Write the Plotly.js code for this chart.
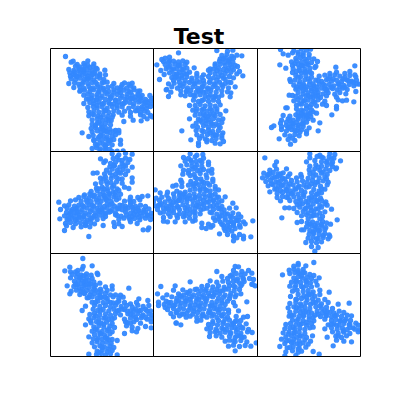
<!DOCTYPE html>
<html><head><meta charset="utf-8"><script src="https://cdn.plot.ly/plotly-3.0.1.min.js"></script>
<style>html,body{margin:0;padding:0;background:#fff}</style></head><body><div id="c" style="width:400px;height:400px"></div>
<script>
const titleText = "Test";
const panel1 = [45,33,62,50,68,47,112,46,80,57,100,54,112,59,130,55,75,62,88,64,103,60,118,66,128,63,137,68,55,72,70,75,85,70,98,74,110,72,125,76,140,71,163,74,58,82,72,80,88,84,100,79,118,82,132,81,148,85,60,92,68,88,80,93,95,89,110,92,125,88,140,93,148,90,165,88,62,100,75,103,88,98,102,102,115,100,130,103,148,98,160,102,55,114,72,112,85,116,98,110,112,114,125,111,140,116,155,112,170,110,190,114,215,117,222,112,235,116,245,113,70,126,88,124,100,128,115,123,128,127,142,124,158,128,172,125,185,122,200,127,212,124,228,128,240,122,250,127,268,136,88,137,102,134,118,138,130,133,145,137,160,134,175,138,190,133,205,137,220,134,235,138,250,133,262,137,100,149,112,146,125,150,140,147,155,151,170,146,185,150,200,147,215,151,230,146,245,150,262,147,275,150,108,161,122,158,138,163,150,158,165,162,180,159,195,163,210,158,225,162,240,159,255,163,270,158,285,162,298,150,305,159,100,174,118,171,130,175,145,170,160,174,175,171,190,175,205,170,220,174,238,171,250,175,265,170,280,174,292,171,305,175,112,186,128,183,140,187,155,184,170,188,185,183,200,187,215,184,235,188,248,183,262,187,275,184,288,188,300,183,115,199,130,196,145,200,160,197,175,201,190,196,205,200,222,197,240,201,255,196,270,200,283,197,292,201,115,211,130,208,143,212,158,209,172,213,188,208,215,209,240,212,270,208,280,213,300,210,305,214,125,223,140,220,155,224,168,221,182,225,220,228,248,224,272,226,290,220,125,236,140,233,152,237,165,234,180,238,122,249,135,246,150,250,165,247,178,251,195,255,205,255,95,262,125,259,140,256,152,260,165,257,178,261,190,258,205,262,115,273,128,270,145,274,158,271,170,275,185,272,195,268,210,284,130,283,142,280,155,284,168,281,180,285,190,282,135,296,148,293,160,297,172,294,185,298,210,296,125,309,138,306,150,310,165,307,178,311,148,316,165,315,185,318,200,317,218,316];
const panel2 = [75,22,190,15,222,17,238,14,205,30,220,27,235,32,250,29,265,31,25,42,35,38,48,35,200,40,215,37,228,41,240,38,48,46,30,48,45,50,60,47,75,49,88,46,100,50,185,55,198,47,212,51,225,46,238,50,10,58,35,57,50,60,65,56,80,59,95,57,170,70,185,60,200,56,215,60,230,57,252,63,22,75,38,70,55,73,70,69,85,72,100,68,122,67,165,74,180,71,195,68,210,72,225,69,240,73,258,78,32,87,48,82,62,85,78,81,92,84,108,80,130,84,150,88,170,82,185,85,200,81,215,84,232,80,250,85,268,91,55,96,70,93,85,97,100,94,115,98,130,92,145,96,165,93,180,97,195,94,210,98,228,93,240,97,18,102,60,105,62,113,78,110,92,114,108,111,122,115,138,110,152,114,168,111,182,115,198,110,215,114,232,111,45,115,40,132,55,124,72,128,88,123,102,127,118,124,132,128,148,123,162,127,178,124,192,128,208,123,225,127,245,124,38,133,52,140,82,136,98,139,112,135,128,140,142,136,158,139,172,135,188,140,205,136,222,139,232,142,45,153,82,148,95,151,110,147,125,152,140,148,155,152,170,147,185,152,205,149,230,154,108,180,120,164,135,168,150,163,165,167,180,164,195,168,125,180,140,177,155,181,170,178,185,182,200,178,118,194,128,197,145,193,160,197,175,194,190,198,217,196,125,209,140,206,155,210,170,207,185,211,200,207,108,220,135,221,150,218,165,222,180,219,195,223,208,220,128,233,145,230,158,234,172,231,188,235,205,231,118,242,132,245,150,241,165,245,180,242,200,246,85,256,128,255,150,258,165,254,178,258,195,255,208,262,130,268,145,271,162,267,178,271,190,268,205,270,112,283,138,279,160,283,188,279,205,278,135,292,160,289,185,293,200,295,210,288,135,300];
const panel3 = [72,12,112,15,135,10,150,14,162,11,80,25,95,29,108,22,125,26,140,23,158,27,118,39,132,36,145,40,158,37,172,40,105,49,120,46,135,50,150,47,165,51,183,48,70,58,108,60,125,57,140,61,155,58,178,62,88,68,110,70,128,67,145,71,160,68,175,66,238,65,295,61,108,81,120,78,135,82,150,79,165,83,280,78,295,88,265,84,240,80,220,84,100,102,118,90,132,94,148,91,165,95,188,92,205,89,220,93,235,88,250,92,265,96,280,90,298,94,102,108,115,104,130,108,145,103,160,107,178,104,195,108,210,103,225,107,240,104,255,108,270,103,285,107,300,104,112,119,128,116,142,120,158,117,172,121,188,116,205,120,218,117,232,121,248,116,262,120,278,117,292,121,308,116,118,131,132,128,148,132,165,129,180,133,195,128,212,132,228,129,242,133,258,128,272,132,298,138,98,149,125,141,140,145,155,142,170,146,185,141,200,145,215,142,235,146,250,141,268,145,108,150,118,153,132,155,148,151,162,155,178,152,192,156,210,151,240,155,112,166,125,163,140,167,155,164,170,168,185,163,205,167,245,163,258,166,270,164,292,169,120,179,135,176,150,180,165,177,180,181,198,176,210,180,88,187,92,187,120,190,135,193,150,189,165,193,240,183,125,201,140,198,155,202,170,199,180,203,240,190,80,210,100,212,118,208,132,212,148,209,163,213,226,208,75,224,95,220,110,224,125,221,140,225,155,220,170,224,72,233,90,230,105,234,120,231,135,235,150,230,190,232,45,246,52,241,75,243,95,246,110,242,125,246,140,243,158,247,75,252,90,256,105,252,120,256,135,253,150,257,185,256,85,268,100,271,115,267,128,271,150,265,68,280,95,282,108,278,115,285,102,296];
const panel4 = [185,10,205,13,225,8,245,11,150,25,165,31,188,24,205,28,225,23,238,27,160,36,180,39,195,35,215,39,232,36,178,49,192,46,208,50,225,47,245,50,168,59,185,56,200,60,218,57,232,61,128,68,140,67,162,70,178,67,195,71,210,68,225,72,150,83,165,80,182,84,198,81,215,85,245,82,152,96,168,93,182,97,198,94,215,98,245,95,135,100,138,113,155,110,170,114,185,111,200,115,222,110,235,114,122,123,140,120,158,124,172,121,188,125,205,120,102,133,118,130,132,134,148,131,162,135,178,130,195,134,210,131,85,141,100,138,115,142,130,139,145,143,160,138,175,142,190,139,205,143,240,140,262,141,275,138,292,136,25,155,60,151,75,148,92,152,108,149,122,153,138,148,152,152,168,149,182,153,198,148,222,152,238,149,250,153,268,148,42,166,55,163,72,167,85,164,100,168,115,163,130,167,148,164,162,168,178,163,192,167,208,164,225,168,240,163,255,167,270,164,285,168,30,177,50,173,65,177,80,174,95,178,110,173,125,177,140,174,155,178,170,173,185,177,200,174,215,178,232,173,248,177,262,174,280,178,295,175,48,186,62,183,75,187,90,184,105,188,120,183,135,187,150,184,165,188,180,183,195,187,225,184,240,188,255,183,270,187,285,184,302,188,42,196,55,193,70,197,85,194,100,198,115,193,130,197,148,194,165,198,195,193,212,197,228,194,245,198,260,193,275,197,292,194,305,198,28,205,50,207,65,203,80,207,95,204,110,208,125,203,140,207,158,204,205,207,220,203,238,207,252,204,268,208,285,203,300,207,45,219,60,216,75,220,90,217,105,221,120,216,132,220,190,216,205,220,240,214,260,219,48,226,68,231,92,229,105,225,118,229,158,225,192,228,215,228,42,240,278,238,292,238,295,232,115,258];
const panel5 = [110,10,130,14,148,12,90,21,105,24,125,19,150,23,95,32,112,29,128,33,140,30,165,35,82,46,100,43,115,47,130,44,145,48,165,43,90,59,118,56,132,60,150,57,165,61,175,57,88,71,105,68,122,72,140,69,158,73,175,68,82,89,125,81,142,85,160,82,178,86,85,96,112,93,128,97,145,94,162,98,178,93,58,107,68,104,85,108,105,104,120,107,135,103,150,107,168,104,185,108,110,119,125,116,140,120,155,117,170,121,185,116,195,118,5,118,42,125,70,122,80,127,95,125,20,127,40,134,60,130,78,134,92,131,108,135,122,130,138,134,152,131,168,135,185,130,8,143,25,140,45,144,62,141,78,145,95,140,110,144,125,141,140,145,155,140,170,144,190,141,215,139,0,153,18,150,35,154,50,151,68,155,85,150,100,154,118,151,132,155,150,150,165,154,180,151,195,155,205,151,5,166,20,163,38,167,55,164,72,168,88,163,102,167,118,164,135,168,150,163,170,167,190,164,205,168,238,158,12,177,30,173,45,177,62,174,78,178,95,173,110,177,125,174,142,178,160,173,180,177,195,174,212,178,228,173,248,172,20,187,45,190,60,186,78,190,92,187,108,191,125,186,140,190,175,187,190,191,205,186,222,190,238,187,255,191,30,201,50,198,72,202,90,199,108,203,125,198,180,202,198,199,215,203,230,198,248,202,262,199,30,212,42,214,65,214,95,214,118,212,125,209,185,210,200,214,215,209,232,213,250,210,270,214,298,211,145,218,165,221,178,225,205,221,222,225,240,220,258,224,275,220,145,231,158,234,172,230,212,233,228,230,245,234,260,230,215,240,225,238,235,242,198,250,222,252,240,256,258,252,270,257,240,258,250,262,270,265,292,259,240,271];
const panel6 = [160,10,190,14,220,9,235,12,25,22,160,22,182,18,200,22,218,19,232,23,60,34,150,34,175,30,195,34,212,31,228,35,252,31,55,45,160,47,178,43,195,47,212,44,228,48,240,52,40,59,60,56,90,55,72,70,158,58,175,55,190,59,208,56,238,55,22,68,35,72,50,66,65,70,80,67,100,70,133,72,160,69,178,73,195,68,212,72,18,82,32,78,48,82,62,79,78,83,95,78,120,82,135,79,155,83,170,78,188,82,205,79,28,93,42,90,58,94,72,91,88,95,105,90,122,94,138,91,152,95,168,90,185,94,200,91,215,95,35,106,50,103,65,107,80,104,95,108,110,103,128,107,142,104,158,108,175,103,192,107,212,103,40,124,55,116,72,120,88,117,102,121,118,116,135,120,172,117,188,121,205,116,62,129,78,126,95,130,110,127,125,131,140,133,165,127,180,131,195,127,62,141,78,138,95,142,112,139,128,143,142,138,158,142,175,139,192,143,72,151,100,150,118,153,132,149,148,153,165,149,182,153,195,150,208,154,122,163,138,160,155,164,170,161,190,165,205,160,212,164,85,172,98,172,112,174,130,170,148,174,162,171,178,175,195,170,225,176,122,186,140,183,155,187,172,184,190,188,205,184,135,196,150,193,165,197,180,194,198,198,76,202,242,208,122,216,135,213,152,217,168,214,182,218,198,213,210,217,222,221,150,229,165,226,180,230,195,227,208,231,135,238,142,238,160,240,175,236,190,240,205,237,158,251,172,248,188,252,205,249,218,253,155,263,170,260,185,264,200,261,215,265,220,258,148,276,165,273,180,277,195,274,165,288,185,291,175,302];
const panel7 = [97,18,58,44,98,42,125,40,43,55,60,58,82,54,95,50,140,62,65,66,80,63,92,67,108,64,122,68,142,66,60,76,78,73,92,77,108,74,125,78,72,86,85,83,100,87,115,84,130,88,80,96,92,93,105,97,120,94,135,98,148,92,50,100,70,102,85,105,100,101,115,105,130,102,165,103,185,100,235,107,62,116,78,113,92,117,108,114,122,118,135,113,152,117,170,114,185,110,58,124,88,126,102,123,118,127,132,124,148,128,165,123,180,127,195,127,210,128,110,136,125,133,140,137,155,134,170,138,188,133,205,137,218,134,265,139,125,149,142,146,158,150,172,147,188,151,205,146,222,150,240,154,258,150,292,144,105,161,132,158,148,162,165,159,180,163,195,158,212,162,228,159,245,163,262,158,278,162,295,159,95,174,128,170,142,174,158,171,175,175,190,170,205,174,222,171,240,175,255,170,270,174,285,171,300,175,118,186,132,183,148,187,165,184,180,188,195,183,210,187,232,184,248,188,262,183,278,187,295,184,305,188,115,199,130,196,145,200,160,197,175,201,192,196,222,200,240,197,258,201,272,196,290,200,302,197,122,211,138,208,152,212,168,209,185,213,225,208,240,212,250,208,270,212,302,208,105,217,130,223,145,220,160,224,178,221,192,225,228,220,245,224,262,228,285,222,302,226,125,236,140,233,155,237,170,234,185,238,245,235,258,238,115,253,132,246,148,243,162,247,178,244,222,243,128,259,142,256,155,260,170,257,185,261,200,264,125,271,140,268,155,272,168,269,182,273,132,283,148,280,162,284,178,281,190,285,140,296,155,293,170,297,185,294,115,305,138,306,152,303,165,307,180,304,200,307];
const panel8 = [245,42,255,43,190,57,240,54,265,57,285,54,235,67,248,63,262,67,275,64,295,62,205,72,170,85,222,78,238,75,252,79,268,76,288,78,300,81,110,88,190,89,208,86,225,90,240,87,258,91,272,87,295,95,305,100,22,102,65,100,130,110,145,102,162,99,178,103,195,100,212,104,228,99,245,103,262,100,298,96,60,113,88,112,110,115,125,111,142,115,158,110,175,114,190,111,208,115,225,110,242,114,258,111,12,124,40,127,75,124,90,128,105,123,120,127,135,124,150,128,165,123,182,127,198,124,215,128,232,123,248,127,262,124,28,136,55,133,70,137,85,134,100,138,115,133,130,137,145,134,160,138,178,133,195,137,210,134,228,138,245,133,15,149,38,146,52,150,68,147,82,151,98,146,112,150,128,147,142,151,158,146,175,150,190,147,205,151,222,146,240,150,280,148,15,159,32,156,48,160,65,157,80,161,95,156,110,160,125,157,140,161,155,156,170,160,185,157,200,161,215,156,245,160,42,171,60,168,75,172,90,169,105,173,122,168,138,172,152,169,168,173,182,168,198,172,212,169,225,173,255,175,52,183,68,180,85,184,100,181,118,185,132,180,148,184,165,181,180,185,195,180,210,184,225,181,60,193,78,190,98,194,110,191,130,195,145,190,160,194,175,191,190,195,205,190,222,194,248,192,270,194,282,192,68,211,130,206,142,203,178,207,195,204,210,208,228,203,245,207,262,204,68,212,82,217,165,216,178,213,192,217,208,214,222,218,240,213,258,217,278,214,160,229,172,226,188,230,205,227,220,231,235,226,252,230,268,227,285,231,170,240,185,238,200,242,215,239,232,243,248,238,262,242,282,238,296,240,168,252,188,250,205,254,228,251,245,255,258,250,272,254,215,266,228,263,245,267,262,264,280,268,308,271,225,281,240,278,258,282,275,279,292,281,245,295];
const panel9 = [172,30,125,33,112,41,125,38,148,40,98,53,112,50,125,54,140,51,78,67,100,63,115,60,130,64,145,61,160,66,172,69,112,76,125,73,138,77,152,74,165,78,188,76,105,89,118,86,132,90,148,87,162,91,178,86,100,101,118,98,135,102,150,99,165,103,182,98,108,116,122,113,140,117,155,114,170,118,190,113,218,119,102,132,125,126,142,130,158,127,175,131,190,126,118,141,135,138,152,142,168,139,185,143,205,141,100,153,118,150,132,154,148,151,162,155,178,150,195,154,215,150,245,155,278,152,95,166,112,163,128,167,145,164,160,168,178,163,195,167,210,164,228,168,100,179,118,176,132,180,148,177,165,181,182,176,198,180,212,177,232,181,248,176,262,180,98,191,112,188,128,192,142,189,158,193,175,188,192,192,208,189,225,193,240,188,255,192,272,188,285,190,108,203,125,200,140,204,158,201,172,205,205,200,225,204,238,201,252,205,268,200,282,204,88,216,102,213,118,217,135,214,150,218,165,213,215,217,232,214,248,218,262,213,278,217,298,212,305,218,85,229,100,226,115,230,130,227,145,231,160,226,170,224,205,229,225,226,242,230,258,227,272,231,290,226,308,232,80,241,98,238,112,242,128,239,145,243,228,238,245,242,262,239,280,243,305,238,88,253,105,250,120,254,135,251,150,255,168,250,212,254,238,251,255,255,270,250,75,260,98,264,112,261,128,265,145,262,162,266,240,263,262,266,285,268,85,273,105,270,122,274,140,271,155,275,230,280,70,282,92,286,110,283,128,287,148,284,88,298,108,295,125,299,135,296,170,297,188,305,85,310,118,309];
const fill1 = [85,75,105,85,120,95,95,115,135,110,150,125,120,130,165,140,140,155,180,155,210,142,240,140,255,155,225,170,270,165,290,180,200,180,165,195,140,180,125,205,150,215,175,225,135,240,160,255,150,270,175,285,140,300,165,300,260,195,245,160,110,100,75,90,210,130,195,165,130,165,155,175,178,175,215,175,300,165,285,170,160,110,130,85,100,70,90,135,115,160,145,140,190,140,230,155,265,150,275,190,185,215,145,230,170,260,130,285,155,245];
const fill2 = [45,65,60,70,75,60,90,70,70,85,85,90,100,85,115,105,75,100,95,105,130,105,150,105,170,105,190,105,205,90,190,75,220,75,235,65,225,50,245,60,210,40,125,115,145,125,165,130,185,118,205,118,100,135,120,150,135,135,150,140,165,155,180,155,195,155,145,165,130,190,150,190,170,190,190,190,150,205,165,212,180,205,140,225,158,225,175,235,195,240,145,255,170,262,185,268,155,280,175,285,65,95,80,120,215,100,225,110];
const fill3 = [125,20,140,30,115,55,135,60,150,55,130,75,145,80,160,80,125,95,140,115,155,100,170,115,185,105,200,115,215,100,230,100,245,115,260,100,275,105,290,110,300,115,120,125,135,125,150,125,165,135,180,125,205,130,225,125,140,135,155,150,170,155,185,150,130,175,145,165,160,185,175,170,135,205,150,215,125,215,110,235,125,240,140,235,100,245,115,255,130,260,100,225,90,240,140,210,160,205,175,140,210,135,250,125,265,125];
const fill4 = [200,20,215,30,190,45,205,65,185,75,205,85,170,100,190,105,160,115,175,130,195,125,165,145,185,160,125,135,140,155,110,155,95,165,75,175,60,190,80,185,55,205,75,210,100,195,120,205,125,165,145,180,170,160,160,190,135,195,205,175,225,175,245,170,265,180,280,185,290,195,250,190,235,200,265,200,215,165,240,155,105,215,85,200,200,195,155,175,175,185,145,115,160,85,220,45];
const fill5 = [115,35,125,50,140,60,110,75,130,85,150,95,120,100,140,115,160,120,175,135,125,140,100,145,75,150,50,165,25,160,15,165,30,185,55,180,75,170,100,180,130,165,145,160,160,155,180,165,200,175,215,190,235,200,225,215,240,225,255,210,210,225,195,205,170,185,150,175,120,185,95,195,70,195,40,175,60,155,85,135,195,140,180,150,105,60,145,35,240,215,205,195];
const fill6 = [195,20,210,35,225,25,185,50,200,65,170,65,220,60,40,70,55,80,70,75,85,85,45,100,60,115,75,105,100,100,115,115,90,120,105,130,125,110,150,110,165,100,180,95,195,115,145,125,165,140,180,150,155,155,130,160,145,175,165,180,185,175,170,195,155,205,190,205,160,220,175,225,195,222,170,245,185,240,200,255,180,265,90,140,65,95,210,85,225,40,185,130];
const fill7 = [75,58,88,75,100,70,75,95,95,110,115,95,130,110,145,120,115,135,135,150,150,135,165,135,180,150,200,150,215,170,230,175,250,175,265,175,275,190,290,175,285,195,150,175,135,190,165,195,185,200,145,210,160,215,175,230,135,230,150,245,165,255,140,262,175,262,155,285,175,290,145,300,120,205,200,175,240,185,255,195,105,85,100,120,150,110,230,210];
const fill8 = [230,70,250,85,265,95,240,100,215,110,200,115,230,130,185,120,170,130,155,140,135,140,110,140,95,145,75,145,60,160,45,150,35,165,70,180,90,185,110,165,135,160,150,190,170,180,190,170,205,190,215,200,235,215,250,205,265,225,245,225,230,240,250,250,265,255,210,230,190,235,120,175,155,115,80,130,100,120,175,160,205,145,270,80,240,265];
const fill9 = [125,60,140,60,120,85,135,70,150,85,115,105,140,105,155,125,120,140,135,160,150,135,170,150,190,160,205,175,220,180,235,190,250,205,265,205,280,225,260,235,240,218,225,215,120,165,105,190,120,205,140,190,155,180,170,195,150,210,130,215,110,225,95,245,115,240,130,250,110,270,130,275,100,285,90,265,125,290,210,190,185,185,140,175,245,250,280,215,295,230,165,125];
const panels = [panel1,panel2,panel3,panel4,panel5,panel6,panel7,panel8,panel9];
const fills = [fill1,fill2,fill3,fill4,fill5,fill6,fill7,fill8,fill9];
const xRanges = [[0,309],[0,312],[3,312],[0,309],[0,312],[3,312],[0,309],[0,312],[3,312]];
const yRanges = [[318,9],[318,9],[318,9],[309,3],[309,3],[309,3],[312,3],[312,3],[312,3]];
const pxX = [[50.5,153.5],[153.5,257.5],[257.5,360.5]];
const pxY = [[48.5,151.5],[151.5,253.5],[253.5,356.5]];
const pointColor = "#3388ff";

const W = 400, H = 400;
const layout = {width:W,height:H,margin:{l:0,r:0,t:0,b:0},paper_bgcolor:"#fff",plot_bgcolor:"#fff",showlegend:false,shapes:[],
  title:{text:titleText,font:{family:"DejaVu Sans",size:22,color:"#000",weight:700},x:0.4975,xanchor:"center",y:0.909,yanchor:"middle"}};
const data = panels.map((p0,i)=>{
  const p=p0.concat(fills[i]);
  const xs=[],ys=[];
  for(let k=0;k<p.length;k+=2){xs.push(p[k]);ys.push(p[k+1]);}
  const n=i+1, c=i%3, r=Math.floor(i/3);
  layout["xaxis"+n]={domain:[pxX[c][0]/W,pxX[c][1]/W],range:xRanges[i],visible:false,anchor:"y"+n,fixedrange:true};
  layout["yaxis"+n]={domain:[1-pxY[r][1]/H,1-pxY[r][0]/H],range:yRanges[i],visible:false,anchor:"x"+n,fixedrange:true};
  layout.shapes.push({type:"rect",xref:"paper",yref:"paper",x0:pxX[c][0]/W,x1:pxX[c][1]/W,y0:1-pxY[r][1]/H,y1:1-pxY[r][0]/H,line:{color:"#000",width:1},layer:"above"});
  return {type:"scatter",mode:"markers",x:xs,y:ys,xaxis:"x"+n,yaxis:"y"+n,marker:{size:5.3,color:pointColor,opacity:0.95,line:{width:0}},hoverinfo:"skip"};
});
Plotly.newPlot("c",data,layout,{displayModeBar:false,staticPlot:true});
</script></body></html>
